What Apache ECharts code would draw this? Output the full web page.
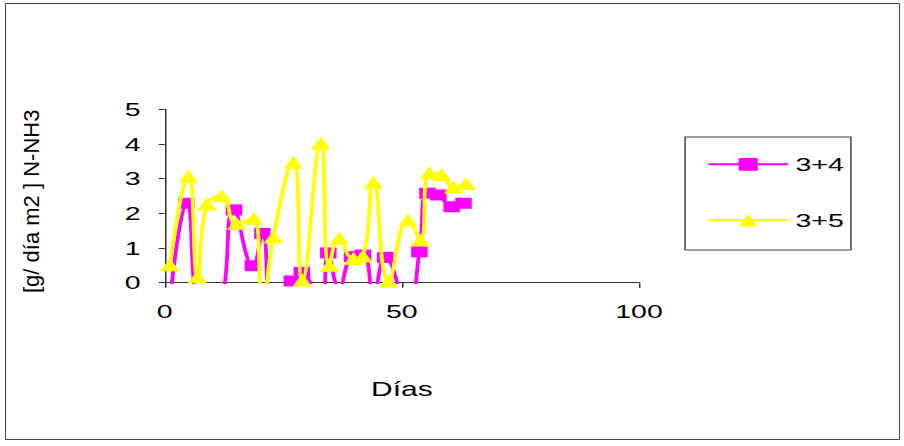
<!DOCTYPE html>
<html>
<head>
<meta charset="utf-8">
<script src="https://cdn.jsdelivr.net/npm/echarts@6/dist/echarts.min.js"></script>
<style>
  html, body { margin: 0; padding: 0; background: #ffffff; overflow: hidden; }
  #wrap { position: relative; width: 904px; height: 446px; overflow: hidden; }
  #main { position: absolute; left: 0; top: 0; width: 602.667px; height: 446px;
          transform: scaleX(1.5); transform-origin: 0 0; }
  #over { position: absolute; left: 0; top: 0; width: 904px; height: 446px; pointer-events: none; }
</style>
</head>
<body>
<div id="wrap">
  <div id="main"></div>
  <div id="over"></div>
</div>
<script>
// ---- data ----
const seriesNames = ['3+4', '3+5'];
const days34 = [1.1, 4.6, 6.9, 8.9, 12.0, 14.6, 18.6, 20.6, 22.9, 26.8, 28.9, 32.9, 34.5, 36.8, 39.5, 41.8, 44.0, 46.5, 51.3, 53.7, 55.4, 57.7, 60.5, 63.0];
const vals34 = [-0.5, 2.29, -1.0, -1.5, -0.6, 2.10, 0.49, 1.42, -0.8, 0.05, 0.30, -1.0, 0.86, -0.15, 0.75, 0.80, -0.3, 0.73, -0.8, 0.89, 2.58, 2.53, 2.19, 2.29];
const days35 = [1.1, 5.0, 6.9, 8.9, 12.0, 15.2, 18.8, 20.6, 22.9, 27.1, 29.0, 32.9, 34.7, 36.8, 39.8, 41.8, 44.0, 47.2, 51.3, 53.9, 55.8, 58.4, 60.9, 63.5];
const vals35 = [0.52, 3.07, 0.17, 2.27, 2.51, 1.71, 1.86, -0.8, 1.32, 3.47, 0.08, 4.03, 0.50, 1.28, 0.70, 0.77, 2.90, 0.05, 1.81, 1.23, 3.17, 3.12, 2.76, 2.86];
const xTicks = [0, 50, 100];
const yTicks = [0, 1, 2, 3, 4, 5];
const xTitle = 'Días';
const yTitle = '[g/ día m2 ] N-NH3';

const FONT = 'Liberation Sans, Arial, sans-serif';
const pair = (xs, ys) => xs.map((x, i) => [x, ys[i]]);

const chart = echarts.init(document.getElementById('main'), null, { renderer: 'svg' });
chart.setOption({
  animation: false,
  backgroundColor: 'transparent',
  grid: { left: 109.8, top: 109.3, width: 316.2, height: 173.4, containLabel: false, outerBoundsMode: 'none' },
  legend: {
    orient: 'vertical', left: 471.3, top: 154.3, padding: 0,
    itemWidth: 53, itemHeight: 16, itemGap: 35.7,
    textStyle: { fontFamily: FONT, fontSize: 19, color: '#000', lineHeight: 20 },
    lineStyle: { width: 2 },
    data: seriesNames
  },
  xAxis: {
    type: 'value', min: xTicks[0], max: xTicks[xTicks.length - 1], interval: 50,
    name: xTitle, nameLocation: 'middle', nameGap: 96,
    nameTextStyle: { fontFamily: FONT, fontSize: 20, color: '#000' },
    axisLine: { show: true, lineStyle: { color: '#333', width: 1 } },
    axisTick: { show: true, inside: false, length: 5, lineStyle: { color: '#333' } },
    axisLabel: { fontFamily: FONT, fontSize: 19, color: '#000', margin: 19 },
    splitLine: { show: false }
  },
  yAxis: {
    type: 'value', min: yTicks[0], max: yTicks[yTicks.length - 1], interval: 1,
    axisLine: { show: true, lineStyle: { color: '#333', width: 1 } },
    axisTick: { show: true, inside: false, length: 4, lineStyle: { color: '#333' } },
    axisLabel: { fontFamily: FONT, fontSize: 19, color: '#000', margin: 16 },
    splitLine: { show: false }
  },
  series: [
    {
      name: seriesNames[0], type: 'line', smooth: 0.5, clip: true,
      data: pair(days34, vals34),
      symbol: 'rect', symbolSize: 11,
      lineStyle: { color: '#FF00FF', width: 2.5 },
      itemStyle: { color: '#FF00FF' },
      z: 2
    },
    {
      name: seriesNames[1], type: 'line', smooth: 0.5, clip: true,
      data: pair(days35, vals35),
      symbol: 'triangle', symbolSize: 13,
      lineStyle: { color: '#FFFF00', width: 2.5 },
      itemStyle: { color: '#FFFF00' },
      z: 3
    }
  ],
  graphic: [
    { type: 'rect', shape: { x: 456.7, y: 137, width: 110.6, height: 113 },
      style: { fill: 'none', stroke: '#444', lineWidth: 1 }, silent: true }
  ]
});

const over = echarts.init(document.getElementById('over'), null, { renderer: 'svg' });
over.setOption({
  animation: false,
  backgroundColor: 'transparent',
  graphic: [
    { type: 'rect', shape: { x: 5.5, y: 3.5, width: 894, height: 436 },
      style: { fill: 'none', stroke: '#444', lineWidth: 1 }, silent: true },
    { type: 'text', x: 31, y: 293, rotation: Math.PI / 2,
      style: { text: yTitle, fontFamily: FONT, fontSize: 22, fill: '#000',
               align: 'left', verticalAlign: 'middle' }, silent: true }
  ]
});
</script>
</body>
</html>
